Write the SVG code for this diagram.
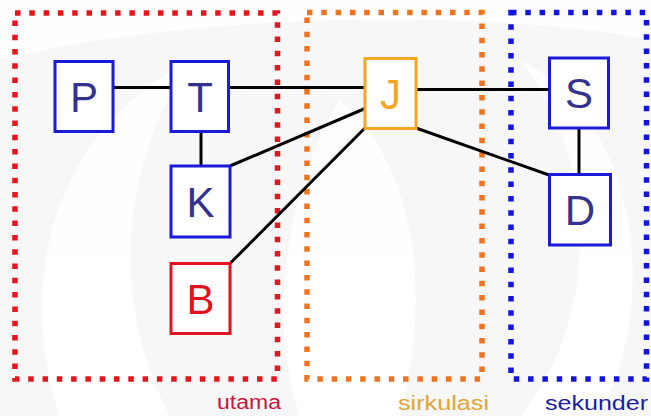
<svg xmlns="http://www.w3.org/2000/svg" width="651" height="416" viewBox="0 0 651 416">
  <style>
    .zone { fill: none; stroke-width: 5.5; stroke-dasharray: 5.5 8.8; }
    .node { fill: #ffffff; stroke-width: 3; }
    .blue { stroke: #1a1ad8; }
    .letter { font-family: "Liberation Sans", Arial, sans-serif; font-size: 42px; text-anchor: middle; fill: #33338f; }
    .label { font-family: "Liberation Sans", Arial, sans-serif; font-size: 20px; }
    .edge { stroke: #000000; stroke-width: 3; fill: none; }
  </style>

  <!-- background with faint watermark swirls -->
  <rect x="0" y="0" width="651" height="416" fill="#f7f7f7"/>
  <g id="watermark" fill="#ffffff" opacity="0.9">
    <path d="M60,416 C20,300 40,140 190,60 C120,170 110,300 170,416 Z"/>
    <path d="M300,416 C260,300 300,160 340,100 C420,170 430,300 400,416 Z"/>
    <path d="M520,416 C600,320 600,160 520,60 C640,120 660,300 600,416 Z"/>
    <path d="M0,0 H651 V40 C500,10 200,10 0,60 Z"/>
  </g>

  <!-- dotted zones -->
  <g id="zones">
    <rect id="zone-utama" class="zone" x="15" y="13" width="262.5" height="366" stroke="#e8141c"/>
    <rect id="zone-sirkulasi" class="zone" x="307" y="12.5" width="175" height="366.5" stroke="#ef7422"/>
    <rect id="zone-sekunder" class="zone" x="511" y="12.5" width="135.5" height="366.5" stroke="#1414e0"/>
  </g>

  <!-- connectors -->
  <g id="connectors">
    <line class="edge" x1="113" y1="87.5" x2="171" y2="87.5"/>
    <line class="edge" x1="228" y1="87.5" x2="365" y2="87.5"/>
    <line class="edge" x1="416" y1="89.5" x2="549" y2="89.5"/>
    <line class="edge" x1="201" y1="131" x2="201" y2="166"/>
    <line class="edge" x1="230" y1="166" x2="365" y2="108.5"/>
    <line class="edge" x1="230" y1="263.5" x2="365" y2="128"/>
    <line class="edge" x1="416" y1="128" x2="549" y2="175"/>
    <line class="edge" x1="579" y1="128" x2="579" y2="174"/>
  </g>

  <!-- nodes -->
  <g id="node-P">
    <rect class="node blue" x="55" y="61.5" width="58" height="70"/>
    <text class="letter" x="84" y="111.5">P</text>
  </g>
  <g id="node-T">
    <rect class="node blue" x="171" y="61.5" width="57.5" height="70"/>
    <text class="letter" x="200" y="111.5">T</text>
  </g>
  <g id="node-K">
    <rect class="node blue" x="171" y="166" width="59" height="71"/>
    <text class="letter" x="200.5" y="216.5">K</text>
  </g>
  <g id="node-B">
    <rect class="node" stroke="#e0141e" x="171" y="263.5" width="59" height="70"/>
    <text class="letter" x="200.5" y="313.5" fill="#e0141e" style="fill:#e0141e">B</text>
  </g>
  <g id="node-J">
    <rect class="node" stroke="#f2a623" x="365" y="58.5" width="51" height="70"/>
    <text class="letter" x="390.5" y="108.5" style="fill:#f2a623">J</text>
  </g>
  <g id="node-S">
    <rect class="node blue" x="549.5" y="58" width="59" height="70"/>
    <text class="letter" x="579" y="108">S</text>
  </g>
  <g id="node-D">
    <rect class="node blue" x="549.5" y="174.5" width="61" height="70.5"/>
    <text class="letter" x="580" y="225">D</text>
  </g>

  <!-- zone labels -->
  <g id="labels">
    <text class="label" x="217" y="409" fill="#c8143c" textLength="64" lengthAdjust="spacingAndGlyphs">utama</text>
    <text class="label" x="398" y="410" fill="#e3a634" textLength="91" lengthAdjust="spacingAndGlyphs">sirkulasi</text>
    <text class="label" x="545" y="410" fill="#1c1ca8" textLength="103" lengthAdjust="spacingAndGlyphs">sekunder</text>
  </g>
</svg>
